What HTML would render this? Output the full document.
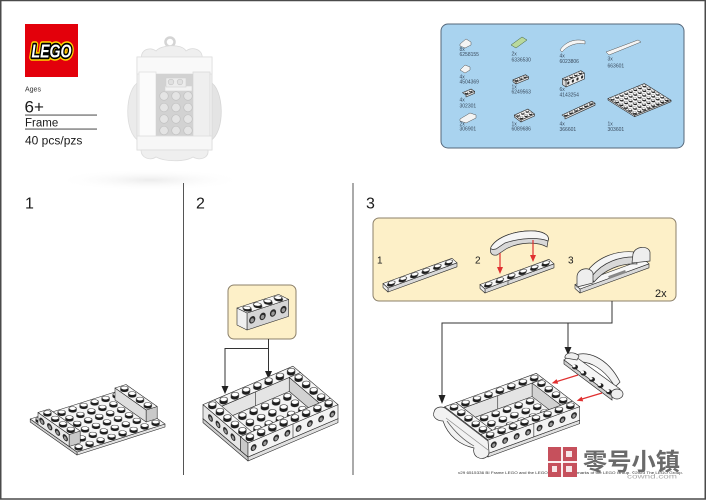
<!DOCTYPE html>
<html><head><meta charset="utf-8">
<style>
html,body{margin:0;padding:0;background:#fff;}
svg{display:block}
.o{stroke:#2a2a2a;stroke-width:.6;vector-effect:non-scaling-stroke;stroke-linejoin:round}
.t{font-family:"Liberation Sans",sans-serif}
.p{font-family:"Liberation Sans",sans-serif;font-size:5px;fill:#3a4a5c}
.h{fill:#2b2b2b}
.hi{fill:#9a9a9a}
</style></head><body>
<svg width="707" height="500" viewBox="0 0 707 500" xmlns="http://www.w3.org/2000/svg">
<defs>
<pattern id="st" patternUnits="userSpaceOnUse" width="1" height="1">
<line x1=".4" y1=".36" x2=".6" y2=".64" stroke="#1e1e1e" stroke-width=".6" stroke-linecap="round"/>
<circle cx=".6" cy=".64" r=".27" fill="#fff" stroke="#1e1e1e" stroke-width=".05"/>
</pattern>
<radialGradient id="sh" cx="50%" cy="50%" r="50%">
<stop offset="0" stop-color="#ececec"/><stop offset="1" stop-color="#fff" stop-opacity="0"/>
</radialGradient>
</defs>

<rect width="707" height="500" fill="#fff"/>
<rect x="0.75" y="0.5" width="704.5" height="498.5" fill="none" stroke="#4a4a4a" stroke-width="1.5"/>

<!-- LEGO logo -->
<rect x="25" y="24" width="53" height="53" fill="#e3000b"/>
<g font-family="Liberation Sans, sans-serif" font-weight="bold" font-style="italic" font-size="18" text-anchor="middle">
<text x="51.5" y="57.5" textLength="40" lengthAdjust="spacingAndGlyphs" fill="#fff" stroke="#ffd500" stroke-width="6.5" stroke-linejoin="round">LEGO</text>
<text x="51.5" y="57.5" textLength="40" lengthAdjust="spacingAndGlyphs" fill="#fff" stroke="#000" stroke-width="3.4" stroke-linejoin="round">LEGO</text>
<text x="51.5" y="57.5" textLength="40" lengthAdjust="spacingAndGlyphs" fill="#fff">LEGO</text>
</g>

<text class="t" x="25" y="91.5" font-size="7" fill="#333">Ages</text>
<text class="t" x="24.5" y="112.7" font-size="17" fill="#1a1a1a">6+</text>
<rect x="25" y="114.6" width="72" height="0.9" fill="#333"/>
<text class="t" x="25" y="126.6" font-size="11.5" fill="#1a1a1a">Frame</text>
<rect x="25" y="128.6" width="72" height="0.9" fill="#333"/>
<text class="t" x="25" y="144.3" font-size="12" fill="#1a1a1a">40 pcs/pzs</text>

<!-- product image -->
<ellipse cx="150" cy="180" rx="95" ry="11" fill="url(#sh)"/>
<path d="M139,82 C125,88 123,132 139,141 Z" fill="#ebebeb" stroke="#dcdcdc" stroke-width=".8"/>
<path d="M210,82 C224,88 226,132 210,141 Z" fill="#e4e4e4" stroke="#d6d6d6" stroke-width=".8"/>
<circle cx="170" cy="42" r="4.5" fill="none" stroke="#d4d4d4" stroke-width="2.5"/>
<path d="M142,60 C139,50 150,46 156,51 C160,45 182,43 186,51 C192,46 204,49 202,60 Z" fill="#efefef" stroke="#dadada" stroke-width=".8"/>
<rect x="137" y="57" width="75" height="93" fill="#f4f4f4" stroke="#d8d8d8" stroke-width=".8"/>
<rect x="137" y="57" width="75" height="17" fill="#f9f9f9" stroke="#dedede" stroke-width=".8"/>
<rect x="139" y="72" width="17" height="66" fill="#fbfbfb" stroke="#e0e0e0" stroke-width=".8"/>
<rect x="193" y="72" width="17" height="66" fill="#efefef" stroke="#dadada" stroke-width=".8"/>
<rect x="156" y="74" width="37" height="62" fill="#d2d2d2"/>
<g fill="#e4e4e4" stroke="#c2c2c2" stroke-width=".7">
<circle cx="164" cy="96" r="4.3"/><circle cx="176" cy="96" r="4.3"/><circle cx="188" cy="96" r="4.3"/>
<circle cx="164" cy="107.5" r="4.3"/><circle cx="176" cy="107.5" r="4.3"/><circle cx="188" cy="107.5" r="4.3"/>
<circle cx="164" cy="119" r="4.3"/><circle cx="176" cy="119" r="4.3"/><circle cx="188" cy="119" r="4.3"/>
<circle cx="164" cy="130.5" r="4.3"/><circle cx="176" cy="130.5" r="4.3"/><circle cx="188" cy="130.5" r="4.3"/>
</g>
<rect x="165" y="86" width="27" height="5" fill="#f2f2f2" stroke="#d4d4d4" stroke-width=".6"/>
<rect x="166" y="78" width="20" height="9" fill="#ececec" stroke="#d0d0d0" stroke-width=".6"/>
<circle cx="171" cy="82" r="2.8" fill="#e0e0e0" stroke="#c4c4c4" stroke-width=".6"/>
<circle cx="180" cy="82" r="2.8" fill="#e0e0e0" stroke="#c4c4c4" stroke-width=".6"/>
<rect x="137" y="136" width="75" height="14" fill="#f7f7f7" stroke="#dcdcdc" stroke-width=".8"/>
<path d="M141,150 C141,158 150,161 156,157 C165,162 185,162 193,157 C200,161 209,158 208,150 Z" fill="#efefef" stroke="#dcdcdc" stroke-width=".8"/>

<!-- parts box -->
<rect x="441" y="24" width="243" height="124" rx="7" fill="#a9d3ef" stroke="#55677a" stroke-width="1"/>
<!-- icons -->
<path d="M460,44 L466,39 L471,42 L471,45 L465,48 L460,46 Z" fill="#f4f4f4" stroke="#555" stroke-width=".5"/>
<path d="M511,45 L522,37 L527,40 L516,48 Z" fill="#b9d99c" stroke="#3c5a3c" stroke-width=".5"/>
<path d="M560,50 C565,42 575,38 585,41 L585,44 C576,42 567,46 562,52 Z" fill="#f5f5f5" stroke="#555" stroke-width=".5"/>
<path d="M606,52 L638,40 L641,42 L609,55 Z" fill="#f4f4f4" stroke="#555" stroke-width=".5"/>
<path d="M460,70 L465,65 L470,67 L470,70 L465,73 Z" fill="#f4f4f4" stroke="#555" stroke-width=".5"/>
<path d="M460,119 L470,113 L476,115 L476,118 L466,123 L460,121 Z" fill="#f4f4f4" stroke="#555" stroke-width=".5"/>
<!-- 1x3 plate -->
<g transform="matrix(4.2,-1.7,0,1,516,84)"><rect class="o" x="0" y="-2" width="3" height="2" fill="#ddd"/></g>
<g transform="matrix(-3,-2.2,0,1,516,84)"><rect class="o" x="0" y="-2" width="1" height="2" fill="#eee"/></g>
<g transform="matrix(4.2,-1.7,-3,-2.2,516,82)"><rect class="o" width="3" height="1" fill="#f7f7f7"/><rect width="3" height="1" fill="url(#st)"/></g>
<!-- brick 1x4 -->
<g transform="matrix(4.6,-2,0,1,566,87)"><rect class="o" x="0" y="-6" width="4" height="6" fill="#eee"/>
<ellipse class="h" cx=".5" cy="-3" rx=".25" ry="1.5"/><ellipse class="h" cx="1.5" cy="-3" rx=".25" ry="1.5"/><ellipse class="h" cx="2.5" cy="-3" rx=".25" ry="1.5"/><ellipse class="h" cx="3.5" cy="-3" rx=".25" ry="1.5"/></g>
<g transform="matrix(-3.5,-2.4,0,1,566,87)"><rect class="o" x="0" y="-6" width="1" height="6" fill="#d8d8d8"/></g>
<g transform="matrix(4.6,-2,-3.5,-2.4,566,81)"><rect class="o" width="4" height="1" fill="#f7f7f7"/><rect width="4" height="1" fill="url(#st)"/></g>
<!-- 1x2 plate -->
<g transform="matrix(4.3,-1.8,0,1,466,97)"><rect class="o" x="0" y="-2" width="2" height="2" fill="#ddd"/></g>
<g transform="matrix(4.3,-1.8,-3.5,-2.4,466,95)"><rect class="o" width="2" height="1" fill="#f7f7f7"/><rect width="2" height="1" fill="url(#st)"/></g>
<!-- 3x2 plate -->
<g transform="matrix(4.5,-2,0,1,521,122)"><rect class="o" x="0" y="-2" width="3" height="2" fill="#ddd"/></g>
<g transform="matrix(-3.3,-2.5,0,1,521,122)"><rect class="o" x="0" y="-2" width="2" height="2" fill="#eee"/></g>
<g transform="matrix(4.5,-2,-3.3,-2.5,521,120)"><rect class="o" width="3" height="2" fill="#f7f7f7"/><rect width="3" height="2" fill="url(#st)"/></g>
<!-- 1x6 plate -->
<g transform="matrix(5,-2.3,0,1,565,119)"><rect class="o" x="0" y="-2" width="6" height="2" fill="#ddd"/></g>
<g transform="matrix(5,-2.3,-3,-2,565,117)"><rect class="o" width="6" height="1" fill="#f7f7f7"/><rect width="6" height="1" fill="url(#st)"/></g>
<!-- 6x8 plate -->
<g transform="matrix(4.54,-1.875,0,1,634.7,116.7)"><rect class="o" x="0" y="-1.5" width="8" height="1.5" fill="#ddd"/></g>
<g transform="matrix(-4.45,-2.78,0,1,634.7,116.7)"><rect class="o" x="0" y="-1.5" width="6" height="1.5" fill="#eee"/></g>
<g transform="matrix(4.54,-1.875,-4.45,-2.78,634.7,115.2)"><rect class="o" width="8" height="6" fill="#f7f7f7"/><rect width="8" height="6" fill="url(#st)"/></g>
<!-- labels -->
<text class="p" x="459.5" y="51">8x</text><text class="p" x="459.5" y="56">6258155</text>
<text class="p" x="459.5" y="78.4">4x</text><text class="p" x="459.5" y="83.7">4504369</text>
<text class="p" x="459.5" y="101.7">4x</text><text class="p" x="459.5" y="107.4">302301</text>
<text class="p" x="459.5" y="125.4">2x</text><text class="p" x="459.5" y="130.4">306901</text>
<text class="p" x="511.5" y="55.4">2x</text><text class="p" x="511.5" y="61.7">6336530</text>
<text class="p" x="511.5" y="88.4">1x</text><text class="p" x="511.5" y="93.7">6249563</text>
<text class="p" x="511.5" y="125.7">1x</text><text class="p" x="511.5" y="130.7">6089686</text>
<text class="p" x="559.5" y="57.4">4x</text><text class="p" x="559.5" y="63">6023806</text>
<text class="p" x="559.5" y="91">6x</text><text class="p" x="559.5" y="96.4">4143254</text>
<text class="p" x="559.5" y="125.7">4x</text><text class="p" x="559.5" y="131">366601</text>
<text class="p" x="607.5" y="60.7">3x</text><text class="p" x="607.5" y="67.4">663601</text>
<text class="p" x="607.5" y="125.7">1x</text><text class="p" x="607.5" y="131">303601</text>

<!-- dividers -->
<rect x="183" y="183" width="1" height="292" fill="#555"/>
<rect x="352.5" y="183" width="1" height="292" fill="#555"/>

<!-- step numbers -->
<text class="t" x="25" y="208.3" font-size="16" fill="#1a1a1a">1</text>
<text class="t" x="196" y="208.3" font-size="16" fill="#1a1a1a">2</text>
<text class="t" x="366" y="208.3" font-size="16" fill="#1a1a1a">3</text>

<!-- STEP 1 model -->
<g transform="matrix(11,-3.5,0,1,77,455)"><rect class="o" x="0" y="-3" width="8" height="3" fill="#e2e2e2"/></g>
<g transform="matrix(-7.8,-5.5,0,1,77,455)"><rect class="o" x="0" y="-3" width="6" height="3" fill="#cfcfcf"/></g>
<g transform="matrix(11,-3.5,-7.8,-5.5,77,452)"><rect class="o" width="8" height="6" fill="#f6f6f6"/><rect width="8" height="6" fill="url(#st)"/></g>
<g transform="matrix(-7.8,-5.5,0,1,154,430.5)"><rect class="o" x="1" y="-15" width="4" height="12" fill="#dedede"/></g>
<g transform="matrix(11,-3.5,0,1,69.2,449.5)"><rect class="o" x="7" y="-15" width="1" height="12" fill="#c9c9c9"/></g>
<g transform="matrix(-7.8,-5.5,0,1,77,455)"><rect class="o" x="1" y="-15" width="4" height="12" fill="#e9e9e9"/>
<ellipse class="h" cx="1.5" cy="-9" rx=".34" ry="3.1"/><ellipse class="h" cx="2.5" cy="-9" rx=".34" ry="3.1"/><ellipse class="h" cx="3.5" cy="-9" rx=".34" ry="3.1"/><ellipse class="h" cx="4.5" cy="-9" rx=".34" ry="3.1"/>
<ellipse class="hi" cx="1.5" cy="-8.5" rx=".18" ry="1.7"/><ellipse class="hi" cx="2.5" cy="-8.5" rx=".18" ry="1.7"/><ellipse class="hi" cx="3.5" cy="-8.5" rx=".18" ry="1.7"/><ellipse class="hi" cx="4.5" cy="-8.5" rx=".18" ry="1.7"/></g>
<g transform="matrix(11,-3.5,0,1,69.2,449.5)"><rect class="o" x="0" y="-15" width="1" height="12" fill="#c8c8c8"/></g>
<g transform="matrix(11,-3.5,-7.8,-5.5,77,440)">
<rect class="o" x="7" y="1" width="1" height="4" fill="#f6f6f6"/><rect x="7" y="1" width="1" height="4" fill="url(#st)"/>
<rect class="o" x="0" y="1" width="1" height="4" fill="#f6f6f6"/><rect x="0" y="1" width="1" height="4" fill="url(#st)"/>
</g>

<!-- STEP 2 callout -->
<rect x="228" y="285" width="68" height="54" rx="6" fill="#fdf0c8" stroke="#8c806a" stroke-width="1"/>
<g transform="matrix(10.4,-3.4,0,1,247,330)"><rect class="o" x="0" y="-17" width="4" height="17" fill="#d6d6d6"/>
<ellipse class="h" cx=".5" cy="-8.5" rx=".3" ry="3.6"/><ellipse class="h" cx="1.5" cy="-8.5" rx=".3" ry="3.6"/><ellipse class="h" cx="2.5" cy="-8.5" rx=".3" ry="3.6"/><ellipse class="h" cx="3.5" cy="-8.5" rx=".3" ry="3.6"/>
<ellipse class="hi" cx=".5" cy="-8" rx=".17" ry="2"/><ellipse class="hi" cx="1.5" cy="-8" rx=".17" ry="2"/><ellipse class="hi" cx="2.5" cy="-8" rx=".17" ry="2"/><ellipse class="hi" cx="3.5" cy="-8" rx=".17" ry="2"/></g>
<g transform="matrix(-10,-5,0,1,247,330)"><rect class="o" x="0" y="-17" width="1" height="17" fill="#f0f0f0"/></g>
<g transform="matrix(10.4,-3.4,-10,-5,247,313)"><rect class="o" width="4" height="1" fill="#f7f7f7"/><rect width="4" height="1" fill="url(#st)"/></g>
<!-- step 2 connectors -->
<path d="M268.5,339 V348.5 H225 V387" stroke="#333" stroke-width="1" fill="none"/>
<polygon points="221.5,386 228.5,386 225,394" fill="#222"/>
<path d="M268.5,348 V372" stroke="#333" stroke-width="1" fill="none"/>
<polygon points="265,371 272,371 268.5,379" fill="#222"/>

<!-- STEP 2 model -->
<g transform="matrix(11.25,-4.8,0,1,248,461)"><rect class="o" x="0" y="-4" width="8" height="4" fill="#e0e0e0"/></g>
<g transform="matrix(-7.5,-6.4,0,1,248,461)"><rect class="o" x="0" y="-4" width="6" height="4" fill="#cdcdcd"/></g>
<g transform="matrix(11.25,-4.8,-7.5,-6.4,248,457)"><rect class="o" width="8" height="6" fill="#f4f4f4"/></g>
<g transform="matrix(11.25,-4.8,0,1,210.5,429)"><rect class="o" x="1" y="-18" width="7" height="14" fill="#e4e4e4"/><line class="o" x1="4" y1="-18" x2="4" y2="-4"/></g>
<g transform="matrix(-7.5,-6.4,0,1,326.75,427.4)"><rect class="o" x="1" y="-18" width="4" height="14" fill="#d2d2d2"/></g>
<g transform="matrix(11.25,-4.8,-7.5,-6.4,248,443)">
<rect class="o" x="1" y="5" width="7" height="1" fill="#f6f6f6"/><rect x="1" y="5" width="7" height="1" fill="url(#st)"/>
<rect class="o" x="7" y="1" width="1" height="4" fill="#f6f6f6"/><rect x="7" y="1" width="1" height="4" fill="url(#st)"/>
</g>
<g transform="matrix(11.25,-4.8,-7.5,-6.4,248,457)"><rect x="1" y="1" width="6" height="4" fill="url(#st)"/></g>
<g transform="matrix(-7.5,-6.4,0,1,248,461)"><rect class="o" x="1" y="-18" width="5" height="14" fill="#e6e6e6"/>
<ellipse class="h" cx="2" cy="-11" rx=".32" ry="3.2"/><ellipse class="h" cx="3" cy="-11" rx=".32" ry="3.2"/><ellipse class="h" cx="4" cy="-11" rx=".32" ry="3.2"/><ellipse class="h" cx="5" cy="-11" rx=".32" ry="3.2"/>
<ellipse class="hi" cx="2" cy="-10.5" rx=".17" ry="1.8"/><ellipse class="hi" cx="3" cy="-10.5" rx=".17" ry="1.8"/><ellipse class="hi" cx="4" cy="-10.5" rx=".17" ry="1.8"/><ellipse class="hi" cx="5" cy="-10.5" rx=".17" ry="1.8"/>
<rect class="o" x="0" y="-18" width="1" height="14" fill="#c9c9c9"/></g>
<g transform="matrix(11.25,-4.8,0,1,248,461)"><rect class="o" x="0" y="-18" width="8" height="14" fill="#f3f3f3"/><line class="o" x1="4" y1="-18" x2="4" y2="-4"/>
<ellipse class="h" cx=".5" cy="-11" rx=".26" ry="3.2"/><ellipse class="h" cx="1.5" cy="-11" rx=".26" ry="3.2"/><ellipse class="h" cx="2.5" cy="-11" rx=".26" ry="3.2"/><ellipse class="h" cx="3.5" cy="-11" rx=".26" ry="3.2"/>
<ellipse class="h" cx="4.5" cy="-11" rx=".26" ry="3.2"/><ellipse class="h" cx="5.5" cy="-11" rx=".26" ry="3.2"/><ellipse class="h" cx="6.5" cy="-11" rx=".26" ry="3.2"/><ellipse class="h" cx="7.5" cy="-11" rx=".26" ry="3.2"/>
<ellipse class="hi" cx=".5" cy="-10.5" rx=".14" ry="1.8"/><ellipse class="hi" cx="1.5" cy="-10.5" rx=".14" ry="1.8"/><ellipse class="hi" cx="2.5" cy="-10.5" rx=".14" ry="1.8"/><ellipse class="hi" cx="3.5" cy="-10.5" rx=".14" ry="1.8"/>
<ellipse class="hi" cx="4.5" cy="-10.5" rx=".14" ry="1.8"/><ellipse class="hi" cx="5.5" cy="-10.5" rx=".14" ry="1.8"/><ellipse class="hi" cx="6.5" cy="-10.5" rx=".14" ry="1.8"/><ellipse class="hi" cx="7.5" cy="-10.5" rx=".14" ry="1.8"/></g>
<g transform="matrix(11.25,-4.8,-7.5,-6.4,248,443)">
<rect class="o" x="0" y="1" width="1" height="5" fill="#f6f6f6"/><rect x="0" y="1" width="1" height="5" fill="url(#st)"/>
<rect class="o" x="0" y="0" width="8" height="1" fill="#f6f6f6"/><rect x="0" y="0" width="8" height="1" fill="url(#st)"/>
</g>

<!-- STEP 3 callout -->
<rect x="373" y="218" width="303" height="83" rx="6" fill="#fdf0c8" stroke="#8c806a" stroke-width="1"/>
<text class="t" x="377" y="263.3" font-size="10" fill="#1a1a1a">1</text>
<text class="t" x="475" y="263.3" font-size="10" fill="#1a1a1a">2</text>
<text class="t" x="568" y="263.3" font-size="10" fill="#1a1a1a">3</text>
<text class="t" x="655" y="297" font-size="11" fill="#1a1a1a">2x</text>
<!-- item 1 -->
<g transform="matrix(11.5,-4.2,0,1,388,292)"><rect class="o" x="0" y="-4" width="6" height="4" fill="#d9d9d9"/></g>
<g transform="matrix(-5,-4.5,0,1,388,292)"><rect class="o" x="0" y="-4" width="1" height="4" fill="#efefef"/></g>
<g transform="matrix(11.5,-4.2,-5,-4.5,388,288)"><rect class="o" width="6" height="1" fill="#f7f7f7"/><rect width="6" height="1" fill="url(#st)"/></g>
<!-- item 2 -->
<g transform="matrix(11.5,-4.2,0,1,485,293)"><rect class="o" x="0" y="-4" width="6" height="4" fill="#d9d9d9"/><line class="o" x1="2" y1="-4" x2="2" y2="0"/></g>
<g transform="matrix(-5,-4.5,0,1,485,293)"><rect class="o" x="0" y="-4" width="1" height="4" fill="#efefef"/></g>
<g transform="matrix(11.5,-4.2,-5,-4.5,485,289)"><rect class="o" width="6" height="1" fill="#f7f7f7"/><rect width="6" height="1" fill="url(#st)"/></g>
<path d="M491,247 C497,237 515,230 535,231 C545,232 550,236 548,241 L547,247 C539,242 521,241 506,249 L497,255 C492,256 489,253 491,247 Z" fill="#d8d8d8" stroke="#333" stroke-width=".7"/>
<path d="M491,247 C497,237 515,230 535,231 C545,232 550,236 548,241 C538,237 520,238 505,243 L496,249 C492,250 490,249 491,247 Z" fill="#f5f5f5" stroke="#333" stroke-width=".7"/>
<line x1="500" y1="253" x2="500" y2="268" stroke="#e03030" stroke-width="1.2"/>
<polygon points="497,267 503,267 500,274" fill="#e03030"/>
<line x1="533" y1="240" x2="533" y2="256" stroke="#e03030" stroke-width="1.2"/>
<polygon points="530,255 536,255 533,262" fill="#e03030"/>
<!-- item 3 -->
<g transform="matrix(11.5,-4.2,0,1,580,293)"><rect class="o" x="0" y="-4" width="6" height="4" fill="#d9d9d9"/></g>
<g transform="matrix(-5,-4.5,0,1,580,293)"><rect class="o" x="0" y="-4" width="1" height="4" fill="#efefef"/></g>
<g transform="matrix(11.5,-4.2,-5,-4.5,580,289)"><rect class="o" width="6" height="1" fill="#f7f7f7"/></g>
<path d="M590,276 C600,262 618,254 636,256 L637,264 C620,263 604,270 594,282 Z" fill="#d8d8d8" stroke="#333" stroke-width=".7"/>
<path d="M586,273 C596,258 615,250 635,252 L638,257 C620,256 603,262 592,276 Z" fill="#f4f4f4" stroke="#333" stroke-width=".7"/>
<rect x="608" y="273" width="18" height="3" fill="#888" transform="rotate(-20 617 274)"/>
<path d="M577,287 L577,277 C577,268 590,266 593,273 L593,283 Z" fill="#eeeeee" stroke="#333" stroke-width=".7"/>
<path d="M632,263 L633,254 C635,246 648,245 650,252 L650,261 Z" fill="#eeeeee" stroke="#333" stroke-width=".7"/>
<!-- step 3 connectors -->
<path d="M612,301 V323 H442 V396" stroke="#333" stroke-width="1" fill="none"/>
<polygon points="438.5,395 445.5,395 442,404" fill="#222"/>
<path d="M568,323 V348" stroke="#333" stroke-width="1" fill="none"/>
<polygon points="564.5,347 571.5,347 568,355" fill="#222"/>

<!-- STEP 3 model -->
<g transform="matrix(11.46,-4.17,0,1,488,457)"><rect class="o" x="0" y="-3.5" width="8" height="3.5" fill="#e0e0e0"/></g>
<g transform="matrix(-7.22,-5.55,0,1,488,457)"><rect class="o" x="0" y="-3.5" width="6" height="3.5" fill="#cdcdcd"/></g>
<g transform="matrix(11.46,-4.17,-7.22,-5.55,488,453.5)"><rect class="o" width="8" height="6" fill="#f4f4f4"/></g>
<g transform="matrix(11.46,-4.17,0,1,451.9,429.25)"><rect class="o" x="1" y="-17" width="7" height="13.5" fill="#e4e4e4"/><line class="o" x1="4" y1="-17" x2="4" y2="-3.5"/></g>
<g transform="matrix(-7.22,-5.55,0,1,568.22,427.81)"><rect class="o" x="1" y="-17" width="4" height="13.5" fill="#d2d2d2"/></g>
<g transform="matrix(11.46,-4.17,-7.22,-5.55,488,440)">
<rect class="o" x="1" y="5" width="7" height="1" fill="#f6f6f6"/><rect x="1" y="5" width="7" height="1" fill="url(#st)"/>
<rect class="o" x="7" y="1" width="1" height="4" fill="#f6f6f6"/><rect x="7" y="1" width="1" height="4" fill="url(#st)"/>
</g>
<g transform="matrix(11.46,-4.17,-7.22,-5.55,488,453.5)"><rect x="1" y="1" width="6" height="4" fill="url(#st)"/></g>
<g transform="matrix(-7.22,-5.55,0,1,488,457)"><rect class="o" x="0" y="-17" width="6" height="13.5" fill="#e6e6e6"/></g>
<g transform="matrix(11.46,-4.17,0,1,488,457)"><rect class="o" x="0" y="-17" width="8" height="13.5" fill="#f3f3f3"/><line class="o" x1="4" y1="-17" x2="4" y2="-3.5"/>
<ellipse class="h" cx=".5" cy="-10.25" rx=".26" ry="3.1"/><ellipse class="h" cx="1.5" cy="-10.25" rx=".26" ry="3.1"/><ellipse class="h" cx="2.5" cy="-10.25" rx=".26" ry="3.1"/><ellipse class="h" cx="3.5" cy="-10.25" rx=".26" ry="3.1"/>
<ellipse class="h" cx="4.5" cy="-10.25" rx=".26" ry="3.1"/><ellipse class="h" cx="5.5" cy="-10.25" rx=".26" ry="3.1"/><ellipse class="h" cx="6.5" cy="-10.25" rx=".26" ry="3.1"/><ellipse class="h" cx="7.5" cy="-10.25" rx=".26" ry="3.1"/>
<ellipse class="hi" cx=".5" cy="-9.75" rx=".14" ry="1.7"/><ellipse class="hi" cx="1.5" cy="-9.75" rx=".14" ry="1.7"/><ellipse class="hi" cx="2.5" cy="-9.75" rx=".14" ry="1.7"/><ellipse class="hi" cx="3.5" cy="-9.75" rx=".14" ry="1.7"/>
<ellipse class="hi" cx="4.5" cy="-9.75" rx=".14" ry="1.7"/><ellipse class="hi" cx="5.5" cy="-9.75" rx=".14" ry="1.7"/><ellipse class="hi" cx="6.5" cy="-9.75" rx=".14" ry="1.7"/><ellipse class="hi" cx="7.5" cy="-9.75" rx=".14" ry="1.7"/></g>
<g transform="matrix(11.46,-4.17,-7.22,-5.55,488,440)">
<rect class="o" x="0" y="1" width="1" height="5" fill="#f6f6f6"/><rect x="0" y="1" width="1" height="5" fill="url(#st)"/>
<rect class="o" x="0" y="0" width="8" height="1" fill="#f6f6f6"/><rect x="0" y="0" width="8" height="1" fill="url(#st)"/>
</g>
<!-- side piece attached on left -->
<path d="M445,408 L488,441 L489,452 C489,458 482,460 477,457 C474,455 473,451 474,448 C460,445 448,436 443,421 C437,421 432,417 434,412 C435,407 441,406 445,408 Z" fill="#f2f2f2" stroke="#333" stroke-width=".7"/>
<path d="M446,418 L488,450" stroke="#888" stroke-width=".7" fill="none"/>
<path d="M447,421 C455,432 463,440 474,446" stroke="#555" stroke-width=".7" fill="none"/>

<!-- detached part on right -->
<path d="M571,357 C586,348 608,358 620,382 L615,387 C605,369 590,361 578,362 Z" fill="#f2f2f2" stroke="#333" stroke-width=".7"/>
<polygon points="564,360 572,354 620,389 612,396" fill="#f6f6f6" stroke="#333" stroke-width=".7"/>
<polygon points="564,360 612,396 612,400 564,364" fill="#cfcfcf" stroke="#333" stroke-width=".7"/>
<path d="M565,358 C564,352 575,351 579,356 L577,360 Z" fill="#eeeeee" stroke="#333" stroke-width=".7"/>
<ellipse cx="617" cy="394" rx="6" ry="5" fill="#f0f0f0" stroke="#333" stroke-width=".7"/>
<g fill="#222"><ellipse cx="575" cy="367" rx="3" ry="2.4"/><ellipse cx="583.5" cy="373.2" rx="3" ry="2.4"/><ellipse cx="592" cy="379.4" rx="3" ry="2.4"/><ellipse cx="600.5" cy="385.6" rx="3" ry="2.4"/><ellipse cx="609" cy="391.8" rx="3" ry="2.4"/></g>
<g fill="#fff"><ellipse cx="574" cy="366" rx="1.6" ry="1.3"/><ellipse cx="582.5" cy="372.2" rx="1.6" ry="1.3"/><ellipse cx="591" cy="378.4" rx="1.6" ry="1.3"/><ellipse cx="599.5" cy="384.6" rx="1.6" ry="1.3"/><ellipse cx="608" cy="390.8" rx="1.6" ry="1.3"/></g>
<!-- red arrows -->
<line x1="578" y1="375" x2="557" y2="381.5" stroke="#e03030" stroke-width="1.2"/>
<polygon points="551.7,383.3 558.2,383.8 556.6,379.1" fill="#e03030"/>
<line x1="602" y1="393" x2="582" y2="399" stroke="#e03030" stroke-width="1.2"/>
<polygon points="576.7,400.7 583.2,401.4 581.7,396.6" fill="#e03030"/>

<!-- footer -->
<text class="t" x="458" y="474" font-size="3.8" fill="#333" textLength="225" lengthAdjust="spacingAndGlyphs">v29 6515336    BI Frame    LEGO and the LEGO logo are trademarks of the LEGO Group. ©2023 The LEGO Group.</text>

<!-- watermark -->
<rect x="548" y="447" width="29" height="30" fill="#c6505c"/>
<rect x="561" y="447" width="2" height="30" fill="#fff" opacity=".9"/>
<rect x="548" y="461" width="29" height="2" fill="#fff" opacity=".9"/>
<rect x="566" y="451" width="6" height="6" fill="#fff" opacity=".85"/>
<rect x="552" y="466" width="5" height="6" fill="#fff" opacity=".85"/>
<rect x="566" y="466" width="6" height="6" fill="#fff" opacity=".85"/>
<text x="583" y="470" font-family="'Liberation Sans','Noto Sans CJK SC',sans-serif" font-weight="bold" font-size="24" fill="#6a6a6a" textLength="97" lengthAdjust="spacingAndGlyphs">零号小镇</text>
<text x="627" y="478.5" font-family="'Liberation Sans',sans-serif" font-size="6.5" fill="#a8a8a8" textLength="50" lengthAdjust="spacingAndGlyphs">cownd.com</text>
</svg>
</body></html>
